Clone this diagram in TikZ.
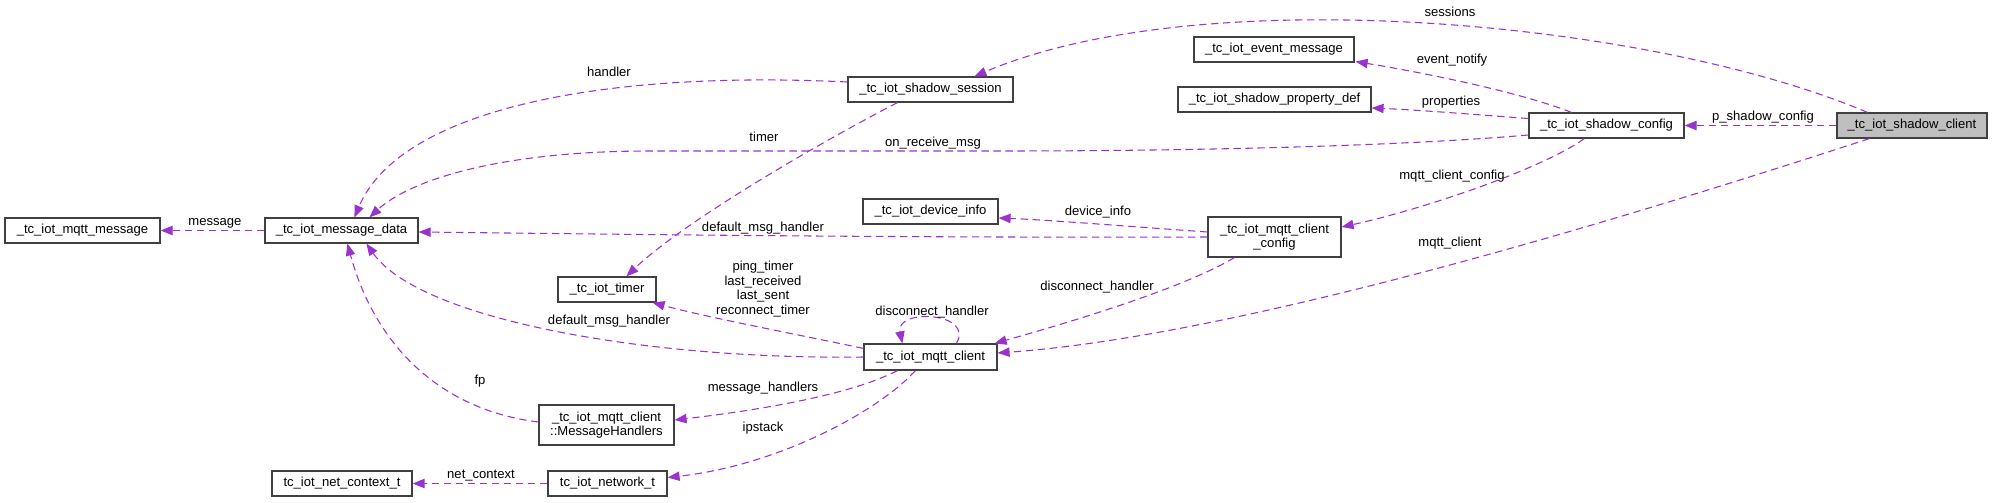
\documentclass[tikz,border=0pt]{standalone}
\usepackage{fontspec}
\setmainfont{Liberation Sans}
\usetikzlibrary{arrows.meta,calc}
\definecolor{edgec}{HTML}{9A32CD}
\definecolor{boxc}{HTML}{404040}
\definecolor{selfill}{HTML}{BFBFBF}
\begin{document}
\begin{tikzpicture}[x=0.75pt,y=-0.75pt,
  font=\fontsize{9.8}{11}\selectfont,
  box/.style={draw=boxc, line width=0.9pt, fill=white, inner sep=0pt, minimum height=18.75pt, align=center},
  box2/.style={box, minimum height=30pt},
  lbl/.style={inner sep=0pt, align=center, text=black},
  edge/.style={draw=edgec, line width=0.8pt, dash pattern=on 5.5pt off 3.5pt, -{Triangle[length=9pt,width=7pt]}}]
\useasboundingbox (0,0) rectangle (1993,503);
% nodes
\node[box, minimum width=155*0.75pt] (mm) at (82.5,230.5) {\_tc\_iot\_mqtt\_message};
\node[box, minimum width=153*0.75pt] (md) at (341.5,230.5) {\_tc\_iot\_message\_data};
\node[box, minimum width=98*0.75pt] (tm) at (607,289.5) {\_tc\_iot\_timer};
\node[box2, minimum width=135*0.75pt] (mh) at (606.5,425) {\_tc\_iot\_mqtt\_client\\::MessageHandlers};
\node[box, minimum width=140*0.75pt] (nc) at (342,483.5) {tc\_iot\_net\_context\_t};
\node[box, minimum width=119*0.75pt] (nw) at (607.5,483.5) {tc\_iot\_network\_t};
\node[box, minimum width=165*0.75pt] (ss) at (930.5,89.5) {\_tc\_iot\_shadow\_session};
\node[box, minimum width=135*0.75pt] (di) at (930.5,211.5) {\_tc\_iot\_device\_info};
\node[box, minimum width=133*0.75pt, minimum height=19.5pt] (mc) at (930.5,357) {\_tc\_iot\_mqtt\_client};
\node[box, minimum width=160*0.75pt] (em) at (1274,49.5) {\_tc\_iot\_event\_message};
\node[box, minimum width=193*0.75pt] (pd) at (1274.5,99.5) {\_tc\_iot\_shadow\_property\_def};
\node[box2, minimum width=133*0.75pt] (cc) at (1274.5,237) {\_tc\_iot\_mqtt\_client\\\_config};
\node[box, minimum width=155*0.75pt] (sc) at (1606.5,125.5) {\_tc\_iot\_shadow\_config};
\node[box, fill=selfill, minimum width=150*0.75pt] (cl) at (1912,125.5) {\_tc\_iot\_shadow\_client};
% edges
\draw[edge] (md.west) -- (mm.east);
\draw[edge] ($(ss.west)+(0,-7.5)$) .. controls (600,70) and (400,110) .. ($(md.north west)+(90,0)$);
\draw[edge] ($(sc.west)+(0,9.5)$) .. controls (1400,146) and (1200,151) .. (1000,151) -- (650,151) .. controls (500,151) and (410,180) .. ($(md.north west)+(105,0)$);
\draw[edge] (cc.west) .. controls (900,238) and (600,234) .. ($(md.east)+(0,1.5)$);
\draw[edge] ($(ss.south west)+(50,0)$) .. controls (806,150) and (680,225) .. ($(tm.north west)+(69,0)$);
\draw[edge] ($(mc.north west)+(0,5)$) .. controls (800,335) and (710,318) .. ($(tm.south east)+(-4,0)$);
\draw[edge] (mc.west) .. controls (650,360) and (420,320) .. ($(md.south west)+(102,0)$);
\draw[edge] ($(mh.west)+(0,-3)$) .. controls (440,410) and (375,345) .. ($(md.south west)+(83,0)$);
\draw[edge] (nw.west) -- (nc.east);
\draw[edge] ($(mc.south west)+(34,0)$) .. controls (850,395) and (760,410) .. ($(mh.east)+(0,-5)$);
\draw[edge] ($(mc.south west)+(52,0)$) .. controls (880,410) and (780,465) .. ($(nw.east)+(0,-6)$);
\draw[edge] ($(mc.north west)+(93,0)$) .. controls (975,312) and (895,308) .. ($(mc.north west)+(39,0)$);
\draw[edge] ($(cc.south west)+(27,0)$) .. controls (1180,290) and (1060,325) .. ($(mc.north east)+(-3,0)$);
\draw[edge] ($(cc.west)+(0,-5)$) .. controls (1150,228) and (1050,220) .. ($(di.east)+(0,6.5)$);
\draw[edge] ($(sc.south west)+(56,0)$) .. controls (1540,170) and (1420,210) .. ($(cc.east)+(0,-10)$);
\draw[edge] ($(sc.north west)+(43,0)$) .. controls (1520,92) and (1420,72) .. ($(em.south east)+(1,-1)$);
\draw[edge] ($(sc.west)+(0,-7)$) .. controls (1480,115) and (1420,110) .. ($(pd.east)+(0,8.5)$);
\draw[edge] (cl.west) -- (sc.east);
\draw[edge] ($(cl.north west)+(31,0)$) .. controls (1650,20) and (1200,-20) .. ($(ss.north west)+(127,0)$);
\draw[edge] ($(cl.south west)+(33,0)$) .. controls (1650,210) and (1250,335) .. ($(mc.east)+(0,-4)$);
% labels
\node[lbl] (l1) at (215,223) {message};
\node[lbl] (l2) at (609,72) {handler};
\node[lbl] (l3) at (933,143) {on\_receive\_msg};
\node[lbl] (l4) at (764,137) {timer};
\node[lbl] (l5) at (763,228) {default\_msg\_handler};
\node[lbl] (l6) at (763,289) {ping\_timer\\last\_received\\last\_sent\\reconnect\_timer};
\node[lbl] (l7) at (609,321) {default\_msg\_handler};
\node[lbl] (l8) at (480,381) {fp};
\node[lbl] (l9) at (481,476) {net\_context};
\node[lbl] (l10) at (763,388) {message\_handlers};
\node[lbl] (l11) at (763,428) {ipstack};
\node[lbl] (l12) at (932,312) {disconnect\_handler};
\node[lbl] (l13) at (1097,287) {disconnect\_handler};
\node[lbl] (l14) at (1098,212) {device\_info};
\node[lbl] (l15) at (1452,176) {mqtt\_client\_config};
\node[lbl] (l16) at (1452,60) {event\_notify};
\node[lbl] (l17) at (1451,102) {properties};
\node[lbl] (l18) at (1763,117) {p\_shadow\_config};
\node[lbl] (l19) at (1450,12) {sessions};
\node[lbl] (l20) at (1450,243) {mqtt\_client};
\end{tikzpicture}
\end{document}
